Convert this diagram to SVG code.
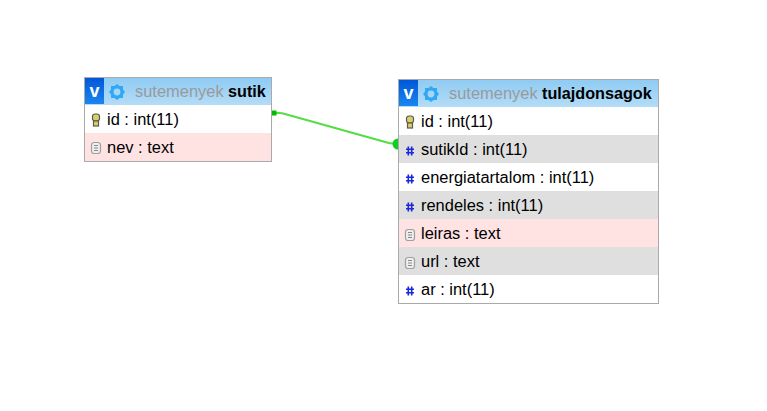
<svg xmlns="http://www.w3.org/2000/svg" width="767" height="411" viewBox="0 0 767 411">
<style>
text{font-family:"Liberation Sans",Arial,sans-serif;font-size:16.45px;fill:#000}
.db{fill:#9a9a9a}
.tb{font-weight:bold;font-size:16.2px}
.box{fill:#fff;stroke:#aaa;stroke-width:1}
.hd{fill:url(#hg)}
.pink{fill:#ffe2e2}
.grey{fill:#dfdfdf}
.v{font-weight:bold;fill:#fff;font-size:18px;text-anchor:middle}
.badge{fill:url(#bg)}
.gear{fill:#2fa8f5}
.hash{stroke:#1a28e0;stroke-width:1.6;fill:none}
.txt{fill:#eee;stroke:#a0a0a0;stroke-width:1.200}
.key{fill:#d8cf6a;stroke:#5a5a50;stroke-width:1.200}
</style>
<defs>
<linearGradient id="hg" x1="0" y1="0" x2="0" y2="1"><stop offset="0" stop-color="#8fcbf3"/><stop offset="1" stop-color="#b4dcf7"/></linearGradient>
<linearGradient id="bg" x1="0" y1="0" x2="0" y2="1"><stop offset="0" stop-color="#0057d8"/><stop offset="1" stop-color="#1a86f0"/></linearGradient>
<g id="gear"><path class="gear" d="M0-8 2.500-6 6-6 6-2.500 8 0 6 2.500 6 6 2.500 6 0 8-2.500 6-6 6-6 2.500-8 0-6-2.500-6-6-2.500-6Z"/><circle r="3.400" fill="#a6d5f5"/></g>
<g id="hash"><path class="hash" d="M-1.700-4.500V4.500M1.700-4.500V4.500M-4-1.700H4M-4 1.700H4"/></g>
<g id="doc"><rect class="txt" x="-4.500" y="-5.500" width="9" height="11" rx="2.500"/><path d="M-2-2.500H2M-2 0H2M-2 2.500H2" stroke="#888" stroke-width="1"/></g>
<g id="key"><rect class="key" x="-3.500" y="-6" width="7" height="7" rx="2.500"/><rect class="key" x="-2.500" y="1" width="5" height="5"/></g>
</defs>
<g id="connectors">
<path d="M272 113H279Q282 113 285 114L387 142.500Q390 143.500 393 143.500H397" fill="none" stroke="#55dd44" stroke-width="2"/>
<rect x="271.500" y="110.500" width="5" height="5" fill="#00bb00"/>
<path d="M398 138.500A5.500 5.500 0 0 0 398 149.500Z" fill="#11cc22"/>
</g>
<g id="table-sutik">
<rect class="box" x="84.500" y="77.500" width="187" height="84"/>
<rect class="hd" x="85" y="78" width="186" height="27"/>
<rect class="badge" x="85" y="78" width="19" height="26"/>
<text class="v" x="94.500" y="97">v</text>
<use href="#gear" x="117" y="92"/>
<text class="db" x="135" y="97">sutemenyek</text>
<text class="tb" x="228" y="97">sutik</text>
<rect class="pink" x="85" y="133" width="186" height="28"/>
<use href="#key" x="96" y="120"/>
<text x="107" y="125">id : int(11)</text>
<use href="#doc" x="96" y="148"/>
<text x="107" y="153">nev : text</text>
</g>
<g id="table-tulajdonsagok">
<rect class="box" x="398.500" y="79.500" width="260" height="224"/>
<rect class="hd" x="399" y="80" width="259" height="27"/>
<rect class="badge" x="399" y="80" width="19" height="26"/>
<text class="v" x="408.500" y="99">v</text>
<use href="#gear" x="431" y="94"/>
<text class="db" x="449" y="99">sutemenyek</text>
<text class="tb" x="542" y="99">tulajdonsagok</text>
<rect class="grey" x="399" y="135" width="259" height="28"/>
<rect class="grey" x="399" y="191" width="259" height="28"/>
<rect class="pink" x="399" y="219" width="259" height="28"/>
<rect class="grey" x="399" y="247" width="259" height="28"/>
<use href="#key" x="410" y="122"/>
<text x="421" y="127">id : int(11)</text>
<use href="#hash" x="410" y="151"/>
<text x="421" y="155">sutikId : int(11)</text>
<use href="#hash" x="410" y="179"/>
<text x="421" y="183">energiatartalom : int(11)</text>
<use href="#hash" x="410" y="207"/>
<text x="421" y="211">rendeles : int(11)</text>
<use href="#doc" x="410" y="235"/>
<text x="421" y="239">leiras : text</text>
<use href="#doc" x="410" y="263"/>
<text x="421" y="267">url : text</text>
<use href="#hash" x="410" y="291"/>
<text x="421" y="295">ar : int(11)</text>
</g>
</svg>
